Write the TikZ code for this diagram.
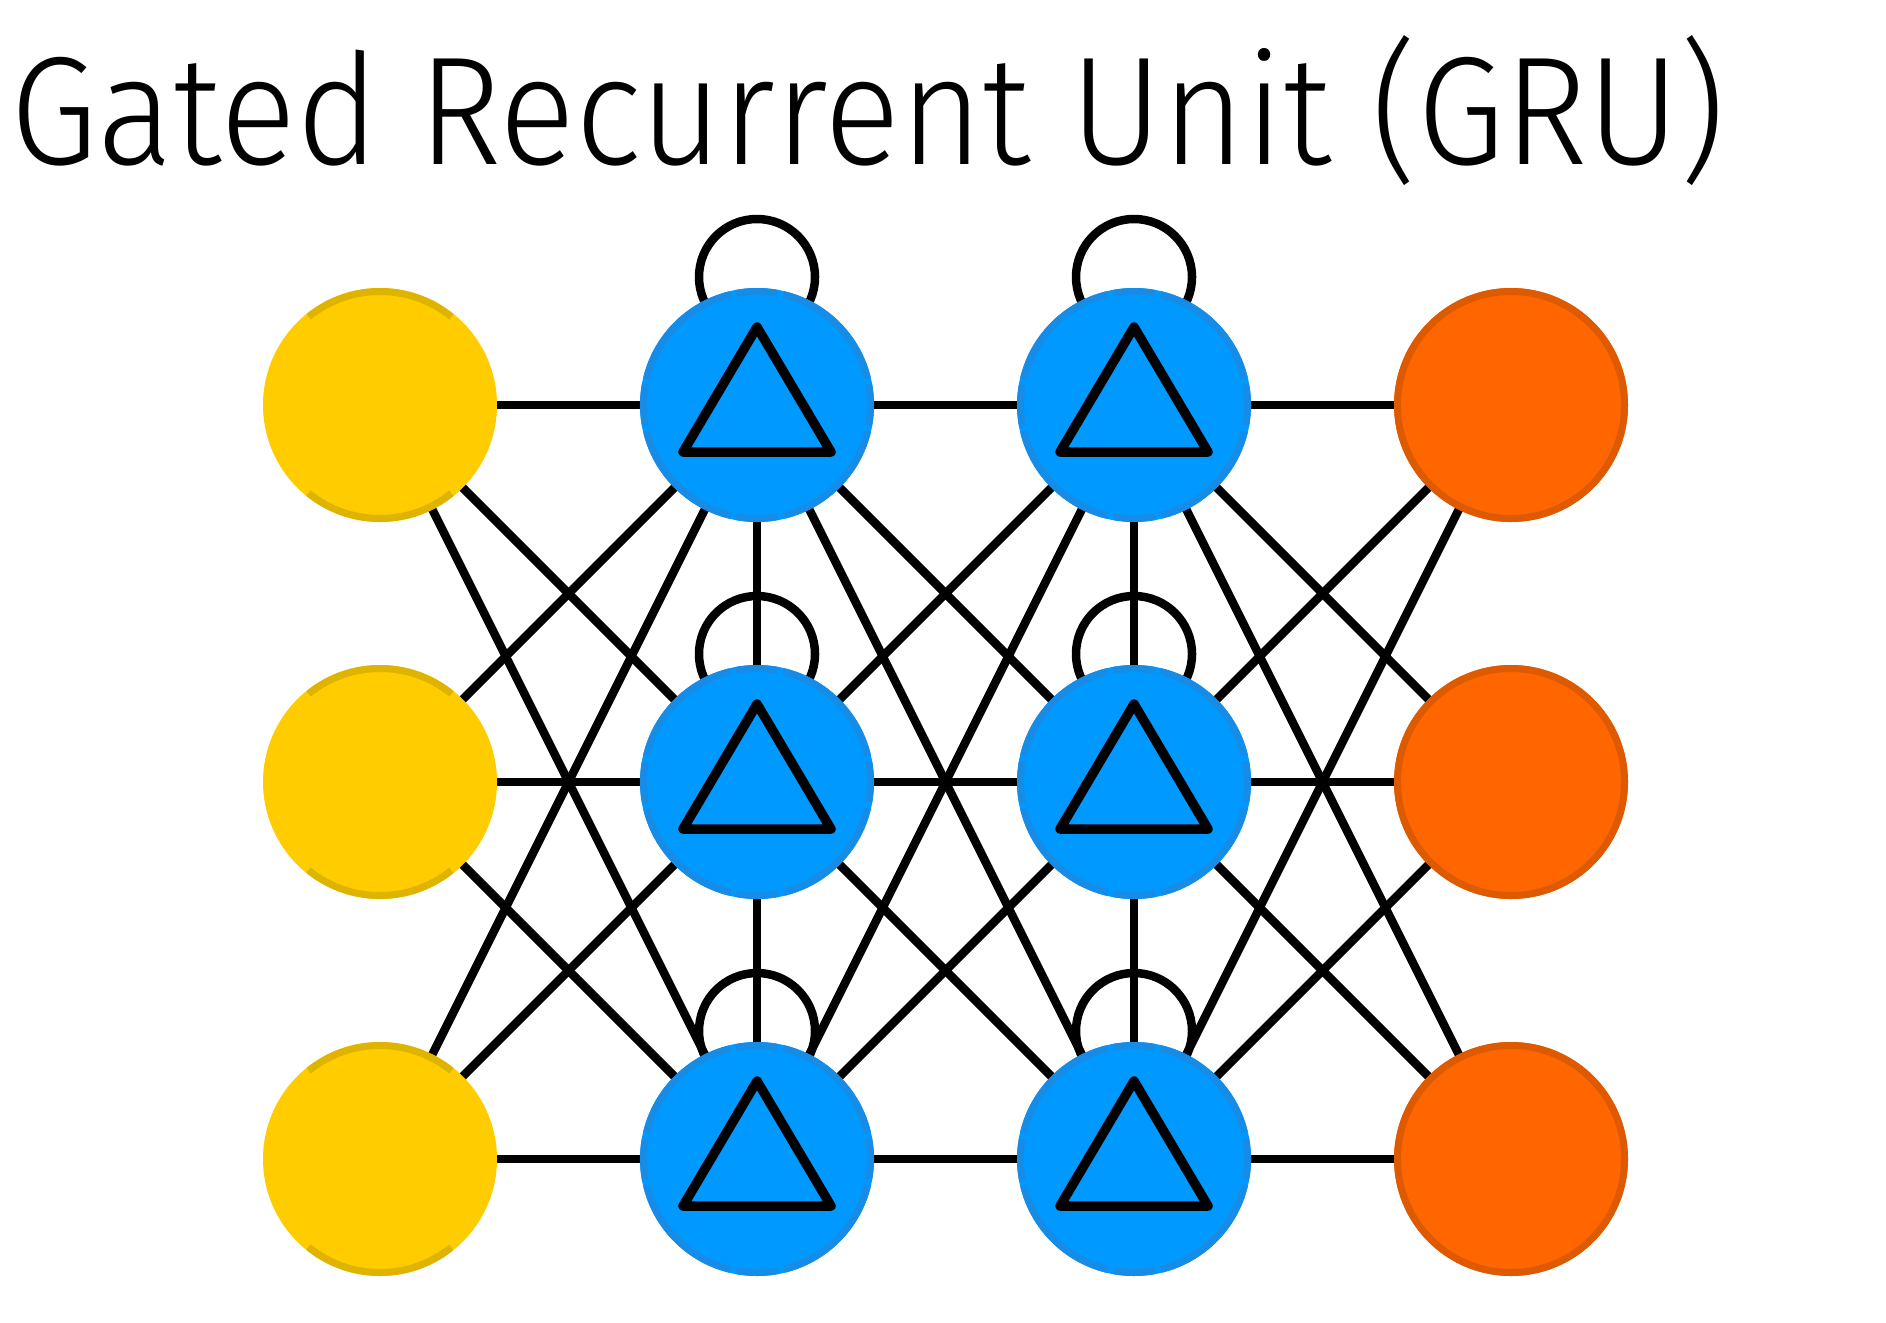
\documentclass[tikz,border=0pt]{standalone}
\usepackage{fontspec}
\setmainfont{Fira Sans Light}
\usetikzlibrary{calc}
\definecolor{yfill}{RGB}{255,204,0}
\definecolor{yring}{RGB}{222,180,0}
\definecolor{bfill}{RGB}{0,153,255}
\definecolor{bring}{RGB}{22,140,230}
\definecolor{ofill}{RGB}{255,102,0}
\definecolor{oring}{RGB}{222,90,0}
\pgfdeclarelayer{bg}
\pgfsetlayers{bg,main}
\begin{document}
\begin{tikzpicture}[x=1pt,y=-1pt,
  edge/.style={line width=8.5pt, black},
  unit/.style={circle, inner sep=0pt, minimum size=234pt},
  inp/.style={unit, fill=yfill},
  hid/.style={unit, fill=bfill},
  outp/.style={unit, fill=ofill},
  ring/.style={line width=7pt},
  yringst/.style={ring, draw=yring, dash pattern=on 154.5pt off 202pt, dash phase=255.5pt},
  bringst/.style={ring, draw=bring, dash pattern=on 124.8pt off 6pt on 41.6pt off 6pt, dash phase=151.6pt},
  oringst/.style={ring, draw=oring},
  tri/.style={line width=9.5pt, black, line join=round, fill=bfill}]
\useasboundingbox (0,0) rectangle (1886,1322);
\node[anchor=south west, inner sep=0pt] (title) at (10,186) {\resizebox*{1715pt}{150pt}{Gated Recurrent Unit (GRU)}};
\foreach \j/\yy in {1/405,2/782,3/1159} {
  \node[inp] (a\j) at (380,\yy) {};
  \node[hid] (b\j) at (757,\yy) {};
  \node[hid] (c\j) at (1134,\yy) {};
  \node[outp] (d\j) at (1511,\yy) {};
  \draw[yringst] (a\j.center) circle[radius=113.5pt];
  \draw[bringst] (b\j.center) circle[radius=113.5pt];
  \draw[bringst] (c\j.center) circle[radius=113.5pt];
  \draw[oringst] (d\j.center) circle[radius=113.5pt];
}
\begin{pgfonlayer}{bg}
\fill[white] (0,0) rectangle (1886,1322);
\foreach \i in {1,2,3} {
  \foreach \j in {1,2,3} {
    \draw[edge] (a\i.center) -- (b\j.center);
    \draw[edge] (b\i.center) -- (c\j.center);
    \draw[edge] (c\i.center) -- (d\j.center);
  }
}
\draw[edge] (b1.center) -- (b2.center) -- (b3.center);
\draw[edge] (c1.center) -- (c2.center) -- (c3.center);
\foreach \n in {b1,b2,b3,c1,c2,c3} {
  \draw[edge] ([yshift=128pt]\n.center) circle[radius=58pt];
}
\end{pgfonlayer}
\foreach \n in {b1,b2,b3,c1,c2,c3} {
  \draw[tri] ($(\n.center)+(0,-78)$) -- ($(\n.center)+(-74,47)$) -- ($(\n.center)+(74,47)$) -- cycle;
}
\end{tikzpicture}
\end{document}
